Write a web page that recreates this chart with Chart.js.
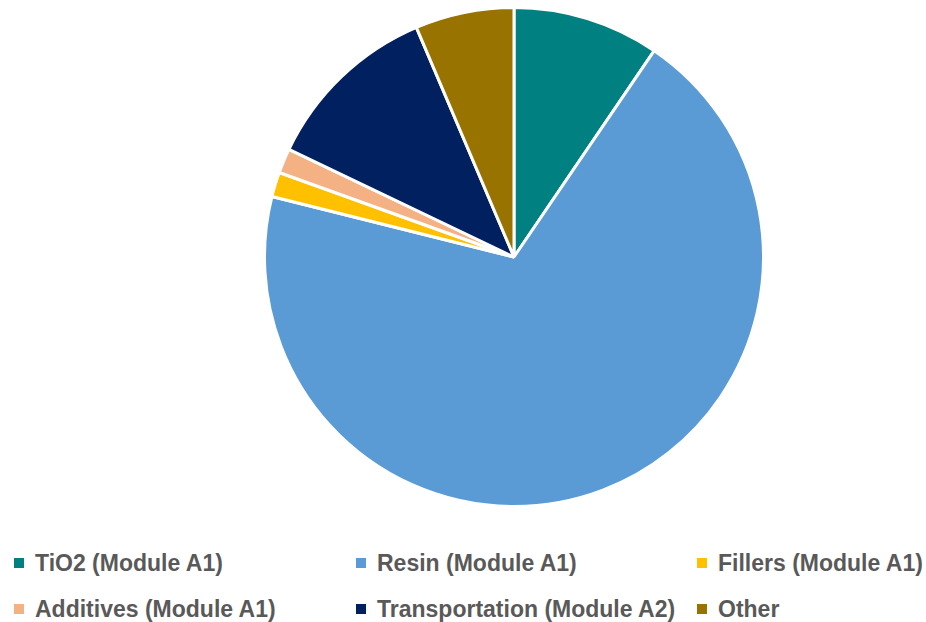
<!DOCTYPE html>
<html>
<head>
<meta charset="utf-8">
<script src="https://cdn.jsdelivr.net/npm/chart.js@4"></script>
<style>
  html, body { margin: 0; padding: 0; background: #fff; }
  body { width: 926px; height: 622px; position: relative; overflow: hidden; }
  #wrap { position: absolute; left: 263px; top: 6px; width: 502px; height: 502px; }
  .leg { position: absolute; font-family: "Liberation Sans Narrow", "Liberation Sans", sans-serif;
         font-weight: bold; font-size: 23px; color: #595959; white-space: nowrap; line-height: 26px; }
  .leg i { display: inline-block; width: 10px; height: 10px; margin-right: 11px; vertical-align: 3px; }
</style>
</head>
<body>
<div id="wrap"><canvas id="pieChart"></canvas></div>
<div id="legend"></div>
<script>
const labels = ['TiO2 (Module A1)', 'Resin (Module A1)', 'Fillers (Module A1)',
                'Additives (Module A1)', 'Transportation (Module A2)', 'Other'];
const values = [9.5, 69.4, 1.6, 1.6, 11.5, 6.4];
const colors = ['#008080', '#5B9BD5', '#FFC000', '#F4B183', '#002060', '#997300'];

// legend laid out like the original: three columns, two rows
const legPos = [[14, 550], [356, 550], [697, 550], [14, 596], [356, 596], [697, 596]];
const legend = document.getElementById('legend');
labels.forEach((l, i) => {
    const d = document.createElement('div');
    d.className = 'leg';
    d.style.left = legPos[i][0] + 'px';
    d.style.top = legPos[i][1] + 'px';
    d.innerHTML = '<i style="background:' + colors[i] + '"></i>' + l;
    legend.appendChild(d);
});

const ctx = document.getElementById('pieChart').getContext('2d');
new Chart(ctx, {
    type: 'pie',
    data: {
        labels: labels,
        datasets: [{
            data: values,
            backgroundColor: colors,
            borderColor: '#ffffff',
            borderWidth: 3
        }]
    },
    options: {
        responsive: true,
        maintainAspectRatio: false,
        animation: false,
        layout: { padding: 0 },
        plugins: {
            legend: { display: false },
            tooltip: { enabled: false }
        }
    }
});
</script>
</body>
</html>
